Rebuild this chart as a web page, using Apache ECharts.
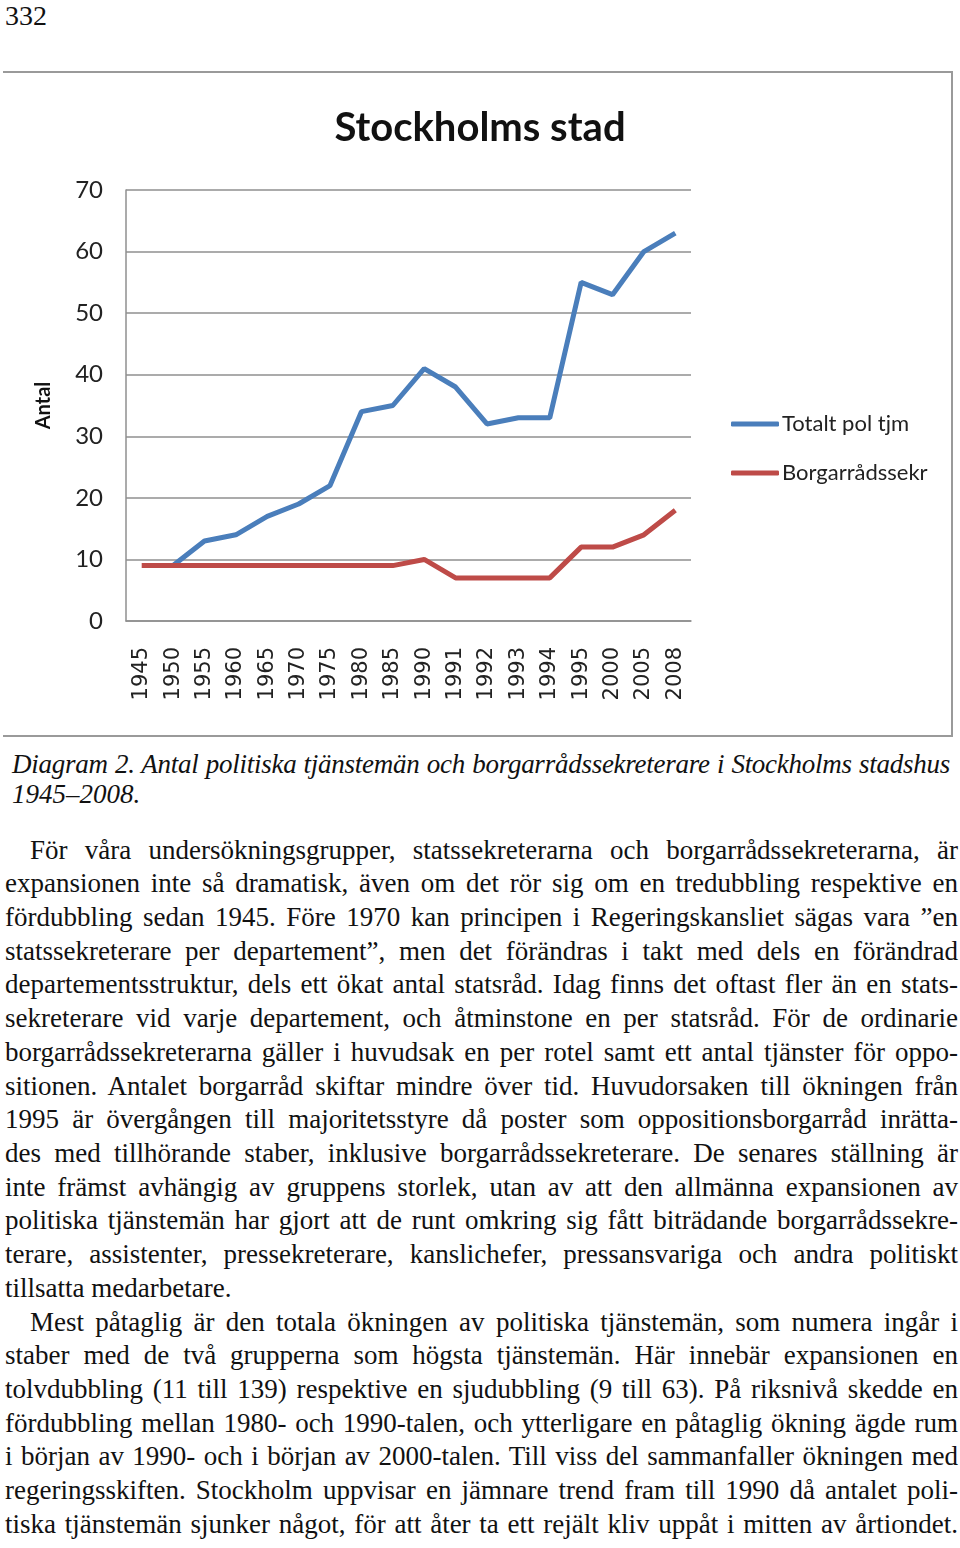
<!DOCTYPE html>
<html>
<head>
<meta charset="utf-8">
<script src="https://cdn.jsdelivr.net/npm/echarts@6/dist/echarts.min.js"></script>
<style>
  html,body{margin:0;padding:0;background:#fff;}
  body{width:960px;height:1548px;position:relative;overflow:hidden;}
  #pagenum{position:absolute;left:5px;top:2px;font:28px 'Liberation Serif','DejaVu Serif',serif;line-height:28px;color:#111;}
  #box{position:absolute;left:3px;top:71px;width:948px;height:662px;border-top:2.5px solid #9a9a9a;border-right:2.5px solid #9a9a9a;border-bottom:2.5px solid #9a9a9a;}
  #chart{position:absolute;left:0;top:0;width:960px;height:740px;}
  #caption{position:absolute;left:12px;top:749px;width:938px;font:italic 27px 'Liberation Serif','DejaVu Serif',serif;line-height:30px;color:#111;}
  #bodytext{position:absolute;left:5px;top:833.5px;width:953px;font:27px 'Liberation Serif','DejaVu Serif',serif;line-height:33.72px;color:#111;}
  .ln{display:block;white-space:nowrap;}
  .ln.just{white-space:normal;text-align:justify;text-align-last:justify;}
  .ind{padding-left:25px;}
</style>
</head>
<body>
<div id="pagenum">332</div>
<div id="box"></div>
<div id="chart"></div>
<div id="caption">
  <div class="ln fit">Diagram 2. Antal politiska tjänstemän och borgarrådssekreterare i Stockholms stadshus</div>
  <div class="ln">1945–2008.</div>
</div>
<div id="bodytext">
  <div class="ln fit ind">För våra undersökningsgrupper, statssekreterarna och borgarrådssekreterarna, är</div>
  <div class="ln fit">expansionen inte så dramatisk, även om det rör sig om en tredubbling respektive en</div>
  <div class="ln fit">fördubbling sedan 1945. Före 1970 kan principen i Regeringskansliet sägas vara ”en</div>
  <div class="ln fit">statssekreterare per departement”, men det förändras i takt med dels en förändrad</div>
  <div class="ln fit">departementsstruktur, dels ett ökat antal statsråd. Idag finns det oftast fler än en stats-</div>
  <div class="ln fit">sekreterare vid varje departement, och åtminstone en per statsråd. För de ordinarie</div>
  <div class="ln fit">borgarrådssekreterarna gäller i huvudsak en per rotel samt ett antal tjänster för oppo-</div>
  <div class="ln fit">sitionen. Antalet borgarråd skiftar mindre över tid. Huvudorsaken till ökningen från</div>
  <div class="ln fit">1995 är övergången till majoritetsstyre då poster som oppositionsborgarråd inrätta-</div>
  <div class="ln fit">des med tillhörande staber, inklusive borgarrådssekreterare. De senares ställning är</div>
  <div class="ln fit">inte främst avhängig av gruppens storlek, utan av att den allmänna expansionen av</div>
  <div class="ln fit">politiska tjänstemän har gjort att de runt omkring sig fått biträdande borgarrådssekre-</div>
  <div class="ln fit">terare, assistenter, pressekreterare, kanslichefer, pressansvariga och andra politiskt</div>
  <div class="ln">tillsatta medarbetare.</div>
  <div class="ln fit ind">Mest påtaglig är den totala ökningen av politiska tjänstemän, som numera ingår i</div>
  <div class="ln fit">staber med de två grupperna som högsta tjänstemän. Här innebär expansionen en</div>
  <div class="ln fit">tolvdubbling (11 till 139) respektive en sjudubbling (9 till 63). På riksnivå skedde en</div>
  <div class="ln fit">fördubbling mellan 1980- och 1990-talen, och ytterligare en påtaglig ökning ägde rum</div>
  <div class="ln fit">i början av 1990- och i början av 2000-talen. Till viss del sammanfaller ökningen med</div>
  <div class="ln fit">regeringsskiften. Stockholm uppvisar en jämnare trend fram till 1990 då antalet poli-</div>
  <div class="ln fit">tiska tjänstemän sjunker något, för att åter ta ett rejält kliv uppåt i mitten av årtiondet.</div>
</div>
<script>
// ---- data ----
var years = ['1945','1950','1955','1960','1965','1970','1975','1980','1985','1990','1991','1992','1993','1994','1995','2000','2005','2008'];
var totaltPolTjm = [null, 9, 13, 14, 17, 19, 22, 34, 35, 41, 38, 32, 33, 33, 55, 53, 60, 63];
var borgarradssekr = [9, 9, 9, 9, 9, 9, 9, 9, 9, 10, 7, 7, 7, 7, 12, 12, 14, 18];
var seriesNames = ['Totalt pol tjm', 'Borgarrådssekr'];
var yTicks = {min: 0, max: 70, interval: 10};

// ---- fit text lines ----
document.querySelectorAll('.ln.fit').forEach(function(el){
  var cs = getComputedStyle(el);
  var avail = el.clientWidth - parseFloat(cs.paddingLeft) - parseFloat(cs.paddingRight);
  var span = document.createElement('span');
  span.textContent = el.textContent;
  el.textContent = '';
  el.appendChild(span);
  var w = span.getBoundingClientRect().width;
  if (w > avail - 4) {
    var n = span.textContent.length;
    var ls = (avail - 6 - w) / n;
    el.style.letterSpacing = ls + 'px';
  }
  el.classList.add('just');
});

// ---- chart ----
var chart = echarts.init(document.getElementById('chart'), null, {renderer: 'canvas'});
var gridColor = '#8f8f8f';
chart.setOption({
  animation: false,
  title: {
    text: 'Stockholms stad',
    left: 'center',
    top: 103,
    textStyle: {fontFamily: 'Lato', fontWeight: 'bold', fontSize: 40, color: '#111'}
  },
  legend: {
    orient: 'vertical',
    left: 726,
    top: 408,
    itemWidth: 48,
    itemHeight: 5,
    itemGap: 27,
    textStyle: {fontFamily: 'Lato', fontSize: 22, color: '#222', padding: [0,0,0,-2]},
    data: [
      {name: seriesNames[0], icon: 'roundRect'},
      {name: seriesNames[1], icon: 'roundRect'}
    ]
  },
  grid: {left: 126, right: 269, top: 190, bottom: 119, containLabel: false},
  xAxis: {
    type: 'category',
    data: years,
    boundaryGap: true,
    axisLine: {show: true, lineStyle: {color: gridColor, width: 1.5}},
    axisTick: {show: false},
    axisLabel: {rotate: 90, interval: 0, margin: 26, fontFamily: 'DejaVu Sans', fontSize: 21, color: '#222'}
  },
  yAxis: {
    type: 'value',
    min: yTicks.min, max: yTicks.max, interval: yTicks.interval,
    name: 'Antal',
    nameLocation: 'middle',
    nameRotate: 90,
    nameGap: 72,
    nameTextStyle: {fontFamily: 'Lato', fontWeight: 'bold', fontSize: 20, color: '#111'},
    axisLine: {show: true, lineStyle: {color: gridColor, width: 1.5}},
    axisTick: {show: false},
    splitLine: {show: true, lineStyle: {color: gridColor, width: 1.5}},
    axisLabel: {margin: 23, fontFamily: 'Lato', fontSize: 24, color: '#222'}
  },
  series: [
    {name: seriesNames[0], type: 'line', data: totaltPolTjm, symbol: 'none', connectNulls: false,
     lineStyle: {color: '#4a7ebb', width: 5}, itemStyle: {color: '#4a7ebb'}},
    {name: seriesNames[1], type: 'line', data: borgarradssekr, symbol: 'none',
     lineStyle: {color: '#be4b48', width: 5}, itemStyle: {color: '#be4b48'}}
  ]
});
</script>
</body>
</html>
